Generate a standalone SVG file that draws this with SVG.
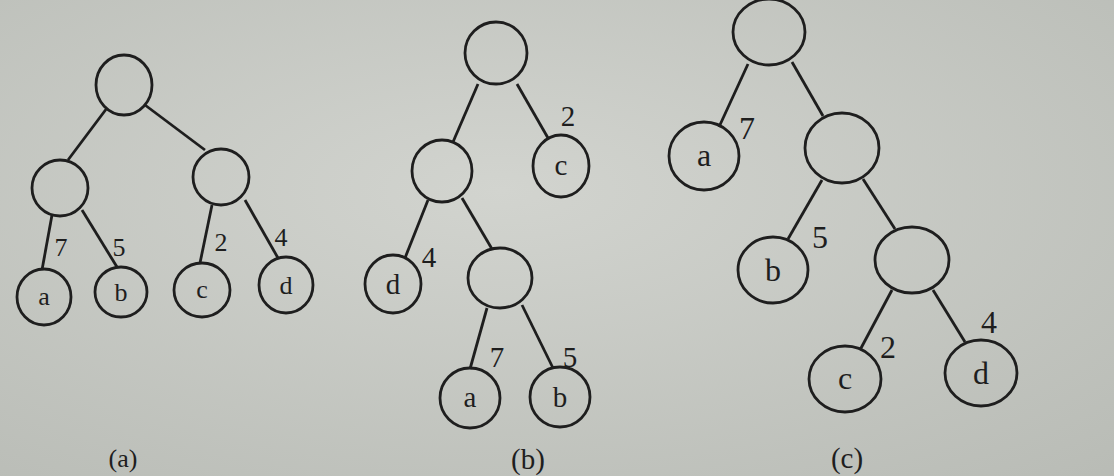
<svg xmlns="http://www.w3.org/2000/svg" width="1114" height="476" viewBox="0 0 1114 476">
<defs>
<radialGradient id="bg" cx="0.45" cy="0.4" r="0.8">
<stop offset="0" stop-color="#d2d4cf"/>
<stop offset="1" stop-color="#b9bcb6"/>
</radialGradient>
</defs>
<style>
.n{fill:none;stroke:#1e1e1e;stroke-width:2.8}
.e{stroke:#1e1e1e;stroke-width:2.8;fill:none}
.t{font-family:"Liberation Serif","DejaVu Serif",serif;fill:#1e1e1e;text-anchor:middle}
.s{font-size:26px}
.m{font-size:29px}
.l{font-size:32px}
</style>
<rect width="1114" height="476" fill="url(#bg)"/>
<g id="connectors">
<line class="e" x1="107" y1="108" x2="68" y2="160"/>
<line class="e" x1="145" y1="105" x2="205" y2="150"/>
<line class="e" x1="52" y1="215" x2="42" y2="270"/>
<line class="e" x1="82" y1="210" x2="117" y2="267"/>
<line class="e" x1="212" y1="205" x2="200" y2="263"/>
<line class="e" x1="245" y1="200" x2="278" y2="258"/>
<line class="e" x1="478" y1="84" x2="453" y2="142"/>
<line class="e" x1="517" y1="84" x2="548" y2="138"/>
<line class="e" x1="428" y1="200" x2="405" y2="258"/>
<line class="e" x1="462" y1="198" x2="492" y2="249"/>
<line class="e" x1="487" y1="308" x2="470" y2="369"/>
<line class="e" x1="522" y1="305" x2="553" y2="368"/>
<line class="e" x1="748" y1="64" x2="719" y2="127"/>
<line class="e" x1="792" y1="62" x2="823" y2="116"/>
<line class="e" x1="822" y1="180" x2="788" y2="239"/>
<line class="e" x1="863" y1="179" x2="895" y2="229"/>
<line class="e" x1="892" y1="290" x2="860" y2="350"/>
<line class="e" x1="933" y1="290" x2="965" y2="342"/>
</g>
<g id="a-root"><ellipse class="n" cx="124" cy="85" rx="28" ry="30"/></g>
<g id="a-left"><ellipse class="n" cx="60" cy="188" rx="28" ry="28"/></g>
<g id="a-right"><ellipse class="n" cx="221" cy="177" rx="28" ry="28"/></g>
<g id="a-a"><ellipse class="n" cx="44" cy="297" rx="27" ry="28"/><text class="t s" x="44" y="305">a</text></g>
<g id="a-b"><ellipse class="n" cx="121" cy="292" rx="26" ry="25"/><text class="t s" x="121" y="301">b</text></g>
<g id="a-c"><ellipse class="n" cx="202" cy="290" rx="28" ry="27"/><text class="t s" x="202" y="298">c</text></g>
<g id="a-d"><ellipse class="n" cx="286" cy="285" rx="27" ry="28"/><text class="t s" x="286" y="294">d</text></g>
<text class="t s" x="61" y="256">7</text>
<text class="t s" x="119" y="256">5</text>
<text class="t s" x="221" y="251">2</text>
<text class="t s" x="281" y="246">4</text>
<text class="t s" x="123" y="467">(a)</text>
<g id="b-root"><ellipse class="n" cx="496" cy="53" rx="31" ry="31"/></g>
<g id="b-left"><ellipse class="n" cx="442" cy="171" rx="30" ry="31"/></g>
<g id="b-c"><ellipse class="n" cx="561" cy="166" rx="28" ry="31"/><text class="t m" x="561" y="175">c</text></g>
<g id="b-d"><ellipse class="n" cx="393" cy="284" rx="28" ry="29"/><text class="t m" x="393" y="294">d</text></g>
<g id="b-inner"><ellipse class="n" cx="500" cy="278" rx="32" ry="30"/></g>
<g id="b-a"><ellipse class="n" cx="470" cy="398" rx="30" ry="30"/><text class="t m" x="470" y="407">a</text></g>
<g id="b-b"><ellipse class="n" cx="560" cy="397" rx="30" ry="30"/><text class="t m" x="560" y="407">b</text></g>
<text class="t m" x="568" y="126">2</text>
<text class="t m" x="429" y="267">4</text>
<text class="t m" x="497" y="367">7</text>
<text class="t m" x="570" y="367">5</text>
<text class="t m" x="528" y="469">(b)</text>
<g id="c-root"><ellipse class="n" cx="769" cy="32" rx="36" ry="33"/></g>
<g id="c-a"><ellipse class="n" cx="704" cy="156" rx="35" ry="34"/><text class="t l" x="704" y="166">a</text></g>
<g id="c-inner1"><ellipse class="n" cx="842" cy="148" rx="37" ry="35"/></g>
<g id="c-b"><ellipse class="n" cx="773" cy="270" rx="35" ry="33"/><text class="t l" x="773" y="281">b</text></g>
<g id="c-inner2"><ellipse class="n" cx="912" cy="260" rx="37" ry="33"/></g>
<g id="c-c"><ellipse class="n" cx="845" cy="379" rx="36" ry="33"/><text class="t l" x="845" y="389">c</text></g>
<g id="c-d"><ellipse class="n" cx="981" cy="373" rx="36" ry="33"/><text class="t l" x="981" y="384">d</text></g>
<text class="t l" x="747" y="139">7</text>
<text class="t l" x="820" y="248">5</text>
<text class="t l" x="888" y="358">2</text>
<text class="t l" x="989" y="333">4</text>
<text class="t m" x="847" y="468">(c)</text>
</svg>
